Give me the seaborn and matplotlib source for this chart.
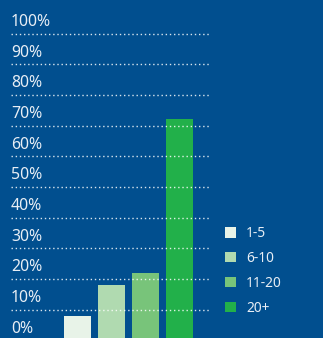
import matplotlib
matplotlib.use("Agg")
import matplotlib.pyplot as plt
import seaborn as sns
import pandas as pd

# Share of respondents by group size
groups = ["1-5", "6-10", "11-20", "20+"]
shares = [8, 18, 22, 72]
bar_colors = ["#E8F3E8", "#B0DAB0", "#78C47A", "#22B04A"]
grid_levels = [0, 10, 20, 30, 40, 50, 60, 70, 80, 90, 100]
grid_labels = ["0%", "10%", "20%", "30%", "40%", "50%", "60%", "70%", "80%", "90%", "100%"]

BG = "#014F8F"
TEXT = "#E8EEF5"

sns.set_theme(style="white")
plt.rcParams["font.family"] = ["Noto Sans", "DejaVu Sans"]

fig = plt.figure(figsize=(3.23, 3.38), dpi=100, facecolor=BG)
ax = fig.add_axes([0, 0, 1, 1], facecolor=BG)

df = pd.DataFrame({"group": groups, "share": shares})
sns.barplot(data=df, x="group", y="share", hue="group", palette=bar_colors,
            width=0.794, saturation=1, dodge=False, legend=True,
            linewidth=0, edgecolor="none", ax=ax)

# pixel-based layout: 34 px per category, ~3.067 px per percent
px_per_cat = 34.0
x0_px = 77.5
px_per_pct = 3.067
base_px = 340.3
ax.set_xlim(-x0_px / px_per_cat, (323 - x0_px) / px_per_cat)
ax.set_ylim((base_px - 338) / px_per_pct, base_px / px_per_pct)

gx0 = (11 - x0_px) / px_per_cat
gx1 = (209 - x0_px) / px_per_cat
for lvl, lab in zip(grid_levels, grid_labels):
    ax.hlines(lvl, gx0, gx1, colors="white", linewidth=1.0,
              linestyles=(0, (1, 2)), alpha=0.85, zorder=5)
    ax.text((11 - x0_px) / px_per_cat, lvl + 7.5 / px_per_pct, lab,
            color=TEXT, fontsize=11.4, va="baseline", ha="left", zorder=6)

for s in ax.spines.values():
    s.set_visible(False)
ax.set_xticks([])
ax.set_yticks([])
ax.set_xlabel("")
ax.set_ylabel("")

leg = ax.legend(loc="upper left", bbox_to_anchor=(225 / 323, 1 - 226 / 338),
                bbox_transform=fig.transFigure, frameon=False, borderpad=0,
                fontsize=9.9, handlelength=0.82, handleheight=0.82,
                handletextpad=0.7, labelspacing=0.72, borderaxespad=0)
for t in leg.get_texts():
    t.set_color(TEXT)
for h in leg.legend_handles:
    h.set_edgecolor("none")

fig.savefig("out.png", dpi=100, facecolor=BG)
